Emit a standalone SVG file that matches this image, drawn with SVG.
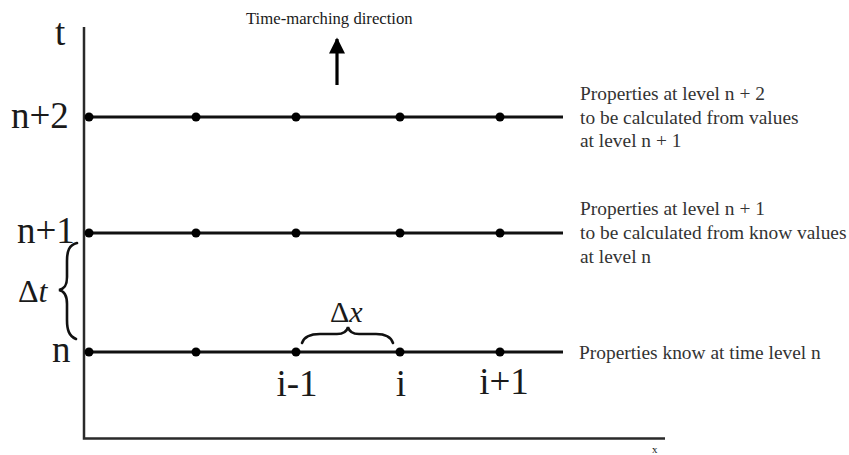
<svg xmlns="http://www.w3.org/2000/svg" width="849" height="455" viewBox="0 0 849 455">
  <style>
    .axis { stroke: #2a2a2a; stroke-width: 2.5; fill: none; }
    .level { stroke: #111; stroke-width: 3; fill: none; }
    .dot { fill: #000; }
    .brace { stroke: #111; stroke-width: 2.6; fill: none; stroke-linecap: round; }
    .lbl { font-family: 'Liberation Serif', 'DejaVu Serif', serif; fill: #1a1a1a; }
    .big { font-size: 37px; }
    .note { font-size: 19.4px; fill: #333; }
  </style>
  <defs>
    <marker id="head" viewBox="0 0 10 10" refX="9" refY="5" markerWidth="5.2" markerHeight="5" orient="auto" markerUnits="strokeWidth">
      <path d="M0,0 L10,5 L0,10 Z" fill="#000"/>
    </marker>
  </defs>

  <rect width="849" height="455" fill="#fff"/>

  <!-- axes -->
  <g id="axes">
    <path class="axis" d="M84,27 L84,438.5 L665,438.5"/>
    <text class="lbl big" x="55" y="45">t</text>
    <text class="lbl" x="652" y="453" font-size="11">x</text>
  </g>

  <!-- time levels with grid points -->
  <g id="level-n2">
    <line class="level" x1="88" y1="117" x2="563" y2="117"/>
    <circle class="dot" cx="89" cy="117" r="4.5"/>
    <circle class="dot" cx="196" cy="117" r="4.5"/>
    <circle class="dot" cx="296" cy="117" r="4.5"/>
    <circle class="dot" cx="400" cy="117" r="4.5"/>
    <circle class="dot" cx="500" cy="117" r="4.5"/>
    <text class="lbl big" x="11" y="128">n+2</text>
    <text class="lbl note" x="580" y="100">Properties at level n + 2</text>
    <text class="lbl note" x="580" y="124">to be calculated from values</text>
    <text class="lbl note" x="580" y="147">at level n + 1</text>
  </g>

  <g id="level-n1">
    <line class="level" x1="88" y1="233" x2="563" y2="233"/>
    <circle class="dot" cx="89" cy="233" r="4.5"/>
    <circle class="dot" cx="196" cy="233" r="4.5"/>
    <circle class="dot" cx="296" cy="233" r="4.5"/>
    <circle class="dot" cx="400" cy="233" r="4.5"/>
    <circle class="dot" cx="500" cy="233" r="4.5"/>
    <text class="lbl big" x="17" y="243">n+1</text>
    <text class="lbl note" x="580" y="215">Properties at level n + 1</text>
    <text class="lbl note" x="580" y="239">to be calculated from know values</text>
    <text class="lbl note" x="580" y="263">at level n</text>
  </g>

  <g id="level-n">
    <line class="level" x1="88" y1="352" x2="563" y2="352"/>
    <circle class="dot" cx="89" cy="352" r="4.5"/>
    <circle class="dot" cx="196" cy="352" r="4.5"/>
    <circle class="dot" cx="296" cy="352" r="4.5"/>
    <circle class="dot" cx="400" cy="352" r="4.5"/>
    <circle class="dot" cx="500" cy="352" r="4.5"/>
    <text class="lbl big" x="52" y="362">n</text>
    <text class="lbl note" x="579" y="359">Properties know at time level n</text>
  </g>

  <!-- spatial indices -->
  <g id="indices">
    <text class="lbl big" x="297" y="396" text-anchor="middle">i-1</text>
    <text class="lbl big" x="401" y="396" text-anchor="middle">i</text>
    <text class="lbl big" x="504" y="394" text-anchor="middle">i+1</text>
  </g>

  <!-- step sizes -->
  <g id="delta-t">
    <path class="brace" d="M77,243 C69,245 67,251 67,261 L67,277 C67,286 64,289 59,290 C64,291 67,295 67,304 L67,320 C67,330 69,336 76,339"/>
    <text class="lbl" x="18" y="302" font-size="32">Δ<tspan font-style="italic">t</tspan></text>
  </g>

  <g id="delta-x">
    <path class="brace" d="M302,343 C304,337 310,334 320,334 L337,334 C344,334 347,331 348,327 C349,331 352,334 359,334 L376,334 C386,334 391,337 393,343"/>
    <text class="lbl" x="330" y="322" font-size="30">Δ<tspan font-style="italic">x</tspan></text>
  </g>

  <!-- marching direction -->
  <g id="direction">
    <text class="lbl" x="246" y="24" font-size="16.7" fill="#333">Time-marching direction</text>
  </g>
  <g id="connectors">
    <line x1="337" y1="85" x2="337" y2="39" stroke="#000" stroke-width="3.2" marker-end="url(#head)"/>
  </g>
</svg>
